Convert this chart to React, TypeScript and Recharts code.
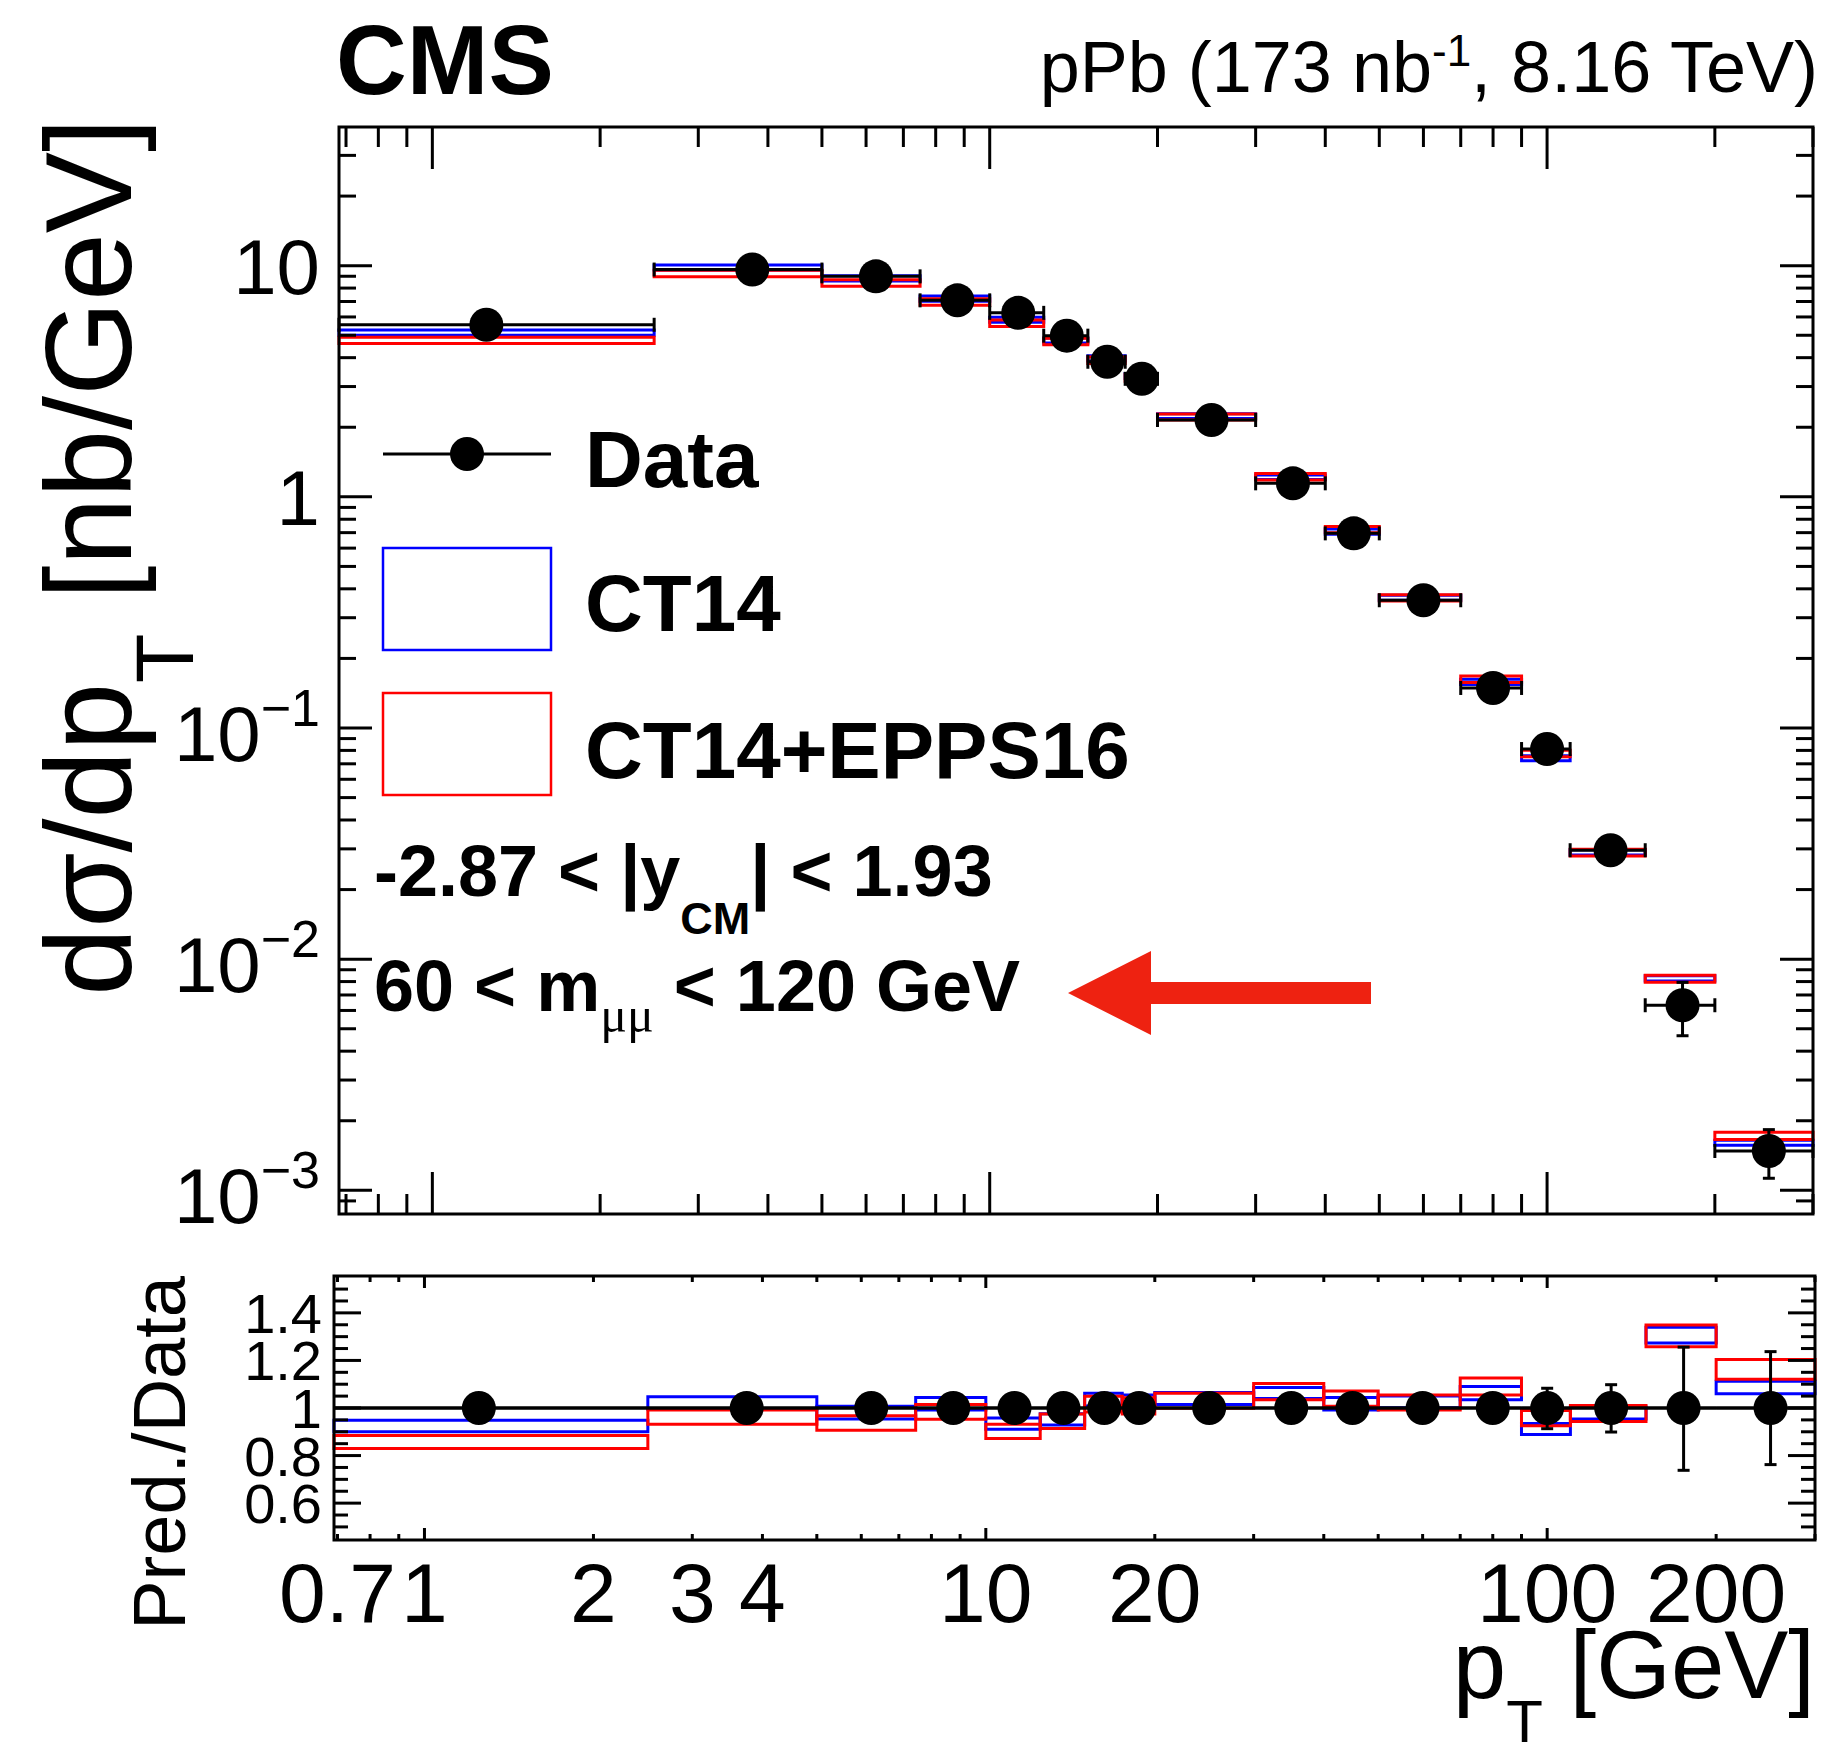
import React from "react";
import {
  ComposedChart,
  XAxis,
  YAxis,
  Scatter,
  ErrorBar,
  ReferenceArea,
  ReferenceLine,
} from "recharts";

if (typeof document !== "undefined") document.body.style.margin = "0";

const W = 1839;
const H = 1746;
const FONT = "'Liberation Sans', Arial, Helvetica, sans-serif";
const BLUE = "#0000ff";
const RED = "#ff0000";

// pT bins [GeV]
const BIN_LO = [0, 2.5, 5, 7.5, 10, 12.5, 15, 17.5, 20, 30, 40, 50, 70, 90, 110, 150, 200];
const BIN_HI = [2.5, 5, 7.5, 10, 12.5, 15, 17.5, 20, 30, 40, 50, 70, 90, 110, 150, 200, 300];
const PT_CENTER = [1.25, 3.75, 6.25, 8.75, 11.25, 13.75, 16.25, 18.75, 25, 35, 45, 60, 80, 100, 130, 175, 250];

// measured dsigma/dpT [nb/GeV] and relative uncertainties
const XSEC = [5.55, 9.62, 8.99, 7.08, 6.25, 4.98, 3.84, 3.24, 2.15, 1.144, 0.695, 0.357, 0.149, 0.0811, 0.0296, 0.00632, 0.00148];
const ERR_DN = [0.03, 0.03, 0.03, 0.03, 0.03, 0.03, 0.03, 0.03, 0.03, 0.035, 0.04, 0.045, 0.055, 0.087, 0.101, 0.262, 0.238];
const ERR_UP = [0.03, 0.03, 0.03, 0.03, 0.03, 0.03, 0.03, 0.03, 0.03, 0.035, 0.04, 0.045, 0.055, 0.083, 0.098, 0.256, 0.237];

// prediction / data bands
const CT14_LO = [0.9, 0.995, 0.954, 0.992, 0.911, 0.929, 1.008, 1.004, 1.015, 1.04, 0.992, 1.001, 1.035, 0.889, 0.954, 1.273, 1.06];
const CT14_HI = [0.949, 1.047, 1.007, 1.044, 0.958, 0.976, 1.062, 1.055, 1.065, 1.086, 1.044, 1.05, 1.09, 0.935, 1.004, 1.34, 1.112];
const EPPS_LO = [0.83, 0.932, 0.906, 0.953, 0.872, 0.914, 0.983, 0.975, 0.999, 1.035, 1.007, 0.992, 1.055, 0.925, 0.943, 1.258, 1.121];
const EPPS_HI = [0.884, 0.992, 0.967, 1.015, 0.932, 0.975, 1.049, 1.043, 1.062, 1.103, 1.072, 1.055, 1.126, 0.989, 1.01, 1.349, 1.204];

// axes
const X_TICKS = [0.7, 0.8, 0.9, 1, 2, 3, 4, 5, 6, 7, 8, 9, 10, 20, 30, 40, 50, 60, 70, 80, 90, 100, 200, 300];
const X_MAJOR = [1, 10, 100];
const X_LABELS = ["0.7", "1", "2", "3", "4", "10", "20", "100", "200"];
const Y_TICKS = [
  0.0009, 0.001, 0.002, 0.003, 0.004, 0.005, 0.006, 0.007, 0.008, 0.009,
  0.01, 0.02, 0.03, 0.04, 0.05, 0.06, 0.07, 0.08, 0.09,
  0.1, 0.2, 0.3, 0.4, 0.5, 0.6, 0.7, 0.8, 0.9,
  1, 2, 3, 4, 5, 6, 7, 8, 9, 10, 20, 30,
];
const Y_LABELS = [
  { v: 10, base: "10", exp: "" },
  { v: 1, base: "1", exp: "" },
  { v: 0.1, base: "10", exp: "\u22121" },
  { v: 0.01, base: "10", exp: "\u22122" },
  { v: 0.001, base: "10", exp: "\u22123" },
];
const R_TICKS = [0.5, 0.55, 0.6, 0.65, 0.7, 0.75, 0.8, 0.85, 0.9, 0.95, 1, 1.05, 1.1, 1.15, 1.2, 1.25, 1.3, 1.35, 1.4, 1.45, 1.5];
const R_LABELS = ["0.6", "0.8", "1", "1.2", "1.4"];

const MAIN = { left: 339, right: 1813, top: 127, bottom: 1214 };
const RATIO = { left: 334, right: 1815, top: 1276, bottom: 1540 };
const MAIN_X = [0.68, 300];
const MAIN_Y = [0.00079, 39.8];
const RATIO_X = [0.69, 300];
const RATIO_Y = [0.445, 1.555];

const same = (a: number, b: number) => Math.abs(a / b - 1) < 1e-6;

const mainPoints = PT_CENTER.map((x, i) => ({
  x,
  y: XSEC[i],
  ex: [x - Math.max(BIN_LO[i], MAIN_X[0]), BIN_HI[i] - x],
  ey: [XSEC[i] * ERR_DN[i], XSEC[i] * ERR_UP[i]],
}));

const ratioPoints = PT_CENTER.map((x, i) => ({
  x,
  y: 1, // data / data
  ex: [x - Math.max(BIN_LO[i], RATIO_X[0]), BIN_HI[i] - x],
  ey: [ERR_DN[i], ERR_UP[i]],
}));

const Dot = (p: any) => <circle cx={p.cx} cy={p.cy} r={17} fill="#000" />;

const MainXTick = (props: any) => {
  const x = props.x;
  const v = props.payload?.value;
  const len = X_MAJOR.some((m) => same(v, m)) ? 42 : 20;
  return (
    <g>
      <line x1={x} x2={x} y1={MAIN.bottom} y2={MAIN.bottom - len} stroke="#000" strokeWidth={3} />
      <line x1={x} x2={x} y1={MAIN.top} y2={MAIN.top + len} stroke="#000" strokeWidth={3} />
    </g>
  );
};

const MainYTick = (props: any) => {
  const y = props.y;
  const v = props.payload?.value;
  const lab = Y_LABELS.find((l) => same(v, l.v));
  const len = lab ? 33 : 17;
  return (
    <g>
      <line x1={MAIN.left} x2={MAIN.left + len} y1={y} y2={y} stroke="#000" strokeWidth={3} />
      <line x1={MAIN.right} x2={MAIN.right - len} y1={y} y2={y} stroke="#000" strokeWidth={3} />
      {lab && !lab.exp && (
        <text x={MAIN.left - 19} y={y + 28} textAnchor="end" fontSize={78} fontFamily={FONT}>
          {lab.base}
        </text>
      )}
      {lab && lab.exp && (
        <text x={MAIN.left - 19} y={y + 33} textAnchor="end" fontSize={78} fontFamily={FONT}>
          {lab.base}
          <tspan fontSize={52} dy={-35}>{lab.exp}</tspan>
        </text>
      )}
    </g>
  );
};

const RatioXTick = (props: any) => {
  const x = props.x;
  const v = props.payload?.value;
  const len = X_MAJOR.some((m) => same(v, m)) ? 12 : 6;
  const lab = X_LABELS.find((l) => same(v, Number(l)));
  return (
    <g>
      <line x1={x} x2={x} y1={RATIO.bottom} y2={RATIO.bottom - len} stroke="#000" strokeWidth={3} />
      <line x1={x} x2={x} y1={RATIO.top} y2={RATIO.top + len} stroke="#000" strokeWidth={3} />
      {lab && (
        <text x={x} y={RATIO.bottom + 82} textAnchor="middle" fontSize={84} fontFamily={FONT}>
          {lab}
        </text>
      )}
    </g>
  );
};

const RatioYTick = (props: any) => {
  const y = props.y;
  const v = props.payload?.value;
  const lab = R_LABELS.find((l) => same(v, Number(l)));
  const len = lab ? 27 : 14;
  return (
    <g>
      <line x1={RATIO.left} x2={RATIO.left + len} y1={y} y2={y} stroke="#000" strokeWidth={3} />
      <line x1={RATIO.right} x2={RATIO.right - len} y1={y} y2={y} stroke="#000" strokeWidth={3} />
      {lab && (
        <text x={RATIO.left - 12} y={y + 20} textAnchor="end" fontSize={56} fontFamily={FONT}>
          {lab}
        </text>
      )}
    </g>
  );
};

function MainPanel() {
  return (
    <ComposedChart
      width={W}
      height={H}
      margin={{ top: MAIN.top, right: W - MAIN.right, left: MAIN.left - 1, bottom: H - MAIN.bottom - 1 }}
    >
      <XAxis
        xAxisId={0}
        type="number"
        dataKey="x"
        scale="log"
        domain={MAIN_X}
        allowDataOverflow
        ticks={X_TICKS}
        interval={0}
        height={1}
        axisLine={false}
        tickLine={false}
        tickSize={0}
        tickMargin={0}
        tick={MainXTick}
      />
      <YAxis
        yAxisId={0}
        type="number"
        dataKey="y"
        scale="log"
        domain={MAIN_Y}
        allowDataOverflow
        ticks={Y_TICKS}
        interval={0}
        width={1}
        axisLine={false}
        tickLine={false}
        tickSize={0}
        tickMargin={0}
        tick={MainYTick}
      />
      {PT_CENTER.map((_, i) => (
        <ReferenceArea
          key={"mc" + i}
          x1={Math.max(BIN_LO[i], MAIN_X[0])}
          x2={BIN_HI[i]}
          y1={CT14_LO[i] * XSEC[i]}
          y2={CT14_HI[i] * XSEC[i]}
          fill="none"
          stroke={BLUE}
          strokeWidth={3}
          ifOverflow="visible"
        />
      ))}
      {PT_CENTER.map((_, i) => (
        <ReferenceArea
          key={"me" + i}
          x1={Math.max(BIN_LO[i], MAIN_X[0])}
          x2={BIN_HI[i]}
          y1={EPPS_LO[i] * XSEC[i]}
          y2={EPPS_HI[i] * XSEC[i]}
          fill="none"
          stroke={RED}
          strokeWidth={3}
          ifOverflow="visible"
        />
      ))}
      <Scatter data={mainPoints} shape={Dot} isAnimationActive={false}>
        <ErrorBar dataKey="ex" direction="x" width={7} stroke="#000" strokeWidth={3} isAnimationActive={false} />
        <ErrorBar dataKey="ey" direction="y" width={6} stroke="#000" strokeWidth={3} isAnimationActive={false} />
      </Scatter>
      <ReferenceArea
        x1={MAIN_X[0]}
        x2={MAIN_X[1]}
        y1={MAIN_Y[0]}
        y2={MAIN_Y[1]}
        fill="none"
        stroke="#000"
        strokeWidth={3}
        ifOverflow="visible"
      />
    </ComposedChart>
  );
}

function RatioPanel() {
  return (
    <ComposedChart
      width={W}
      height={H}
      margin={{ top: RATIO.top, right: W - RATIO.right, left: RATIO.left - 1, bottom: H - RATIO.bottom - 1 }}
    >
      <XAxis
        xAxisId={0}
        type="number"
        dataKey="x"
        scale="log"
        domain={RATIO_X}
        allowDataOverflow
        ticks={X_TICKS}
        interval={0}
        height={1}
        axisLine={false}
        tickLine={false}
        tickSize={0}
        tickMargin={0}
        tick={RatioXTick}
      />
      <YAxis
        yAxisId={0}
        type="number"
        dataKey="y"
        domain={RATIO_Y}
        allowDataOverflow
        ticks={R_TICKS}
        interval={0}
        width={1}
        axisLine={false}
        tickLine={false}
        tickSize={0}
        tickMargin={0}
        tick={RatioYTick}
      />
      <ReferenceLine y={1} stroke="#000" strokeWidth={3} ifOverflow="visible" />
      {PT_CENTER.map((_, i) => (
        <ReferenceArea
          key={"rc" + i}
          x1={Math.max(BIN_LO[i], RATIO_X[0])}
          x2={BIN_HI[i]}
          y1={CT14_LO[i]}
          y2={CT14_HI[i]}
          fill="none"
          stroke={BLUE}
          strokeWidth={3}
          ifOverflow="visible"
        />
      ))}
      {PT_CENTER.map((_, i) => (
        <ReferenceArea
          key={"re" + i}
          x1={Math.max(BIN_LO[i], RATIO_X[0])}
          x2={BIN_HI[i]}
          y1={EPPS_LO[i]}
          y2={EPPS_HI[i]}
          fill="none"
          stroke={RED}
          strokeWidth={3}
          ifOverflow="visible"
        />
      ))}
      <Scatter data={ratioPoints} shape={Dot} isAnimationActive={false}>
        <ErrorBar dataKey="ex" direction="x" width={0} stroke="#000" strokeWidth={3} isAnimationActive={false} />
        <ErrorBar dataKey="ey" direction="y" width={6} stroke="#000" strokeWidth={3} isAnimationActive={false} />
      </Scatter>
      <ReferenceArea
        x1={RATIO_X[0]}
        x2={RATIO_X[1]}
        y1={RATIO_Y[0]}
        y2={RATIO_Y[1]}
        fill="none"
        stroke="#000"
        strokeWidth={3}
        ifOverflow="visible"
      />
    </ComposedChart>
  );
}

function Annotations() {
  return (
    <svg
      width={W}
      height={H}
      style={{ position: "absolute", left: 0, top: 0, pointerEvents: "none" }}
      fontFamily={FONT}
    >
      <text x={336} y={94} fontSize={98} fontWeight="bold">CMS</text>
      <text x={1818} y={92} fontSize={72} textAnchor="end">
        {"pPb (173 nb"}
        <tspan fontSize={44} dy={-26}>-1</tspan>
        <tspan dy={26}>{", 8.16 TeV)"}</tspan>
      </text>

      <text transform="translate(131,118) rotate(-90)" textAnchor="end" fontSize={122}>
        {"d\u03c3/dp"}
        <tspan fontSize={81} dy={62}>T</tspan>
        <tspan dy={-62}>{" [nb/GeV]"}</tspan>
      </text>
      <text transform="translate(185,1276) rotate(-90)" textAnchor="end" fontSize={74}>
        Pred./Data
      </text>
      <text x={1815} y={1698} textAnchor="end" fontSize={96}>
        p
        <tspan fontSize={60} dy={44}>T</tspan>
        <tspan dy={-44}>{" [GeV]"}</tspan>
      </text>

      {/* legend */}
      <line x1={383} x2={551} y1={454} y2={454} stroke="#000" strokeWidth={3} />
      <circle cx={467} cy={454} r={17} fill="#000" />
      <text x={585} y={487} fontSize={80} fontWeight="bold">Data</text>
      <rect x={383} y={548} width={168} height={102} fill="none" stroke={BLUE} strokeWidth={2.5} />
      <text x={585} y={631} fontSize={80} fontWeight="bold">CT14</text>
      <rect x={383} y={693} width={168} height={102} fill="none" stroke={RED} strokeWidth={2.5} />
      <text x={585} y={778} fontSize={80} fontWeight="bold">CT14+EPPS16</text>

      <text x={374} y={896} fontSize={72} fontWeight="bold">
        {"-2.87 < |y"}
        <tspan fontSize={45} dy={38}>CM</tspan>
        <tspan dy={-38}>{"| < 1.93"}</tspan>
      </text>
      <text x={374} y={1011} fontSize={72} fontWeight="bold">
        {"60 < m"}
        <tspan fontSize={50} fontWeight="normal" fontFamily="'Liberation Serif', serif" dy={21}>
          {"\u03bc\u03bc"}
        </tspan>
        <tspan dy={-21}>{" < 120 GeV"}</tspan>
      </text>

      <polygon
        points="1068,993 1151,951 1151,982 1371,982 1371,1004 1151,1004 1151,1035"
        fill="#ee2211"
      />
    </svg>
  );
}

export default function App() {
  return (
    <div style={{ position: "relative", width: W, height: H, background: "#fff", fontFamily: FONT }}>
      <div style={{ position: "absolute", left: 0, top: 0 }}>
        <RatioPanel />
      </div>
      <div style={{ position: "absolute", left: 0, top: 0 }}>
        <MainPanel />
      </div>
      <Annotations />
    </div>
  );
}
